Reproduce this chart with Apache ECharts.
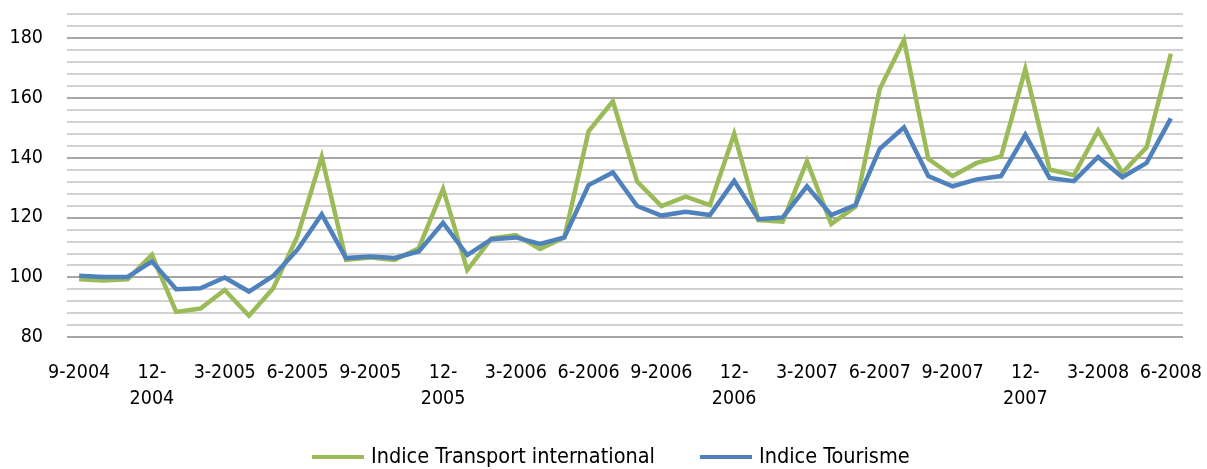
<!DOCTYPE html>
<html>
<head>
<meta charset="utf-8">
<script src="https://cdn.jsdelivr.net/npm/echarts@6/dist/echarts.min.js"></script>
<style>
  html, body { margin: 0; padding: 0; background: #ffffff; }
  #chart { width: 1207px; height: 469px; }
</style>
</head>
<body>
<div id="chart"></div>
<script>
// Monthly periods, September 2004 to June 2008
const months = [
  '9-2004', '10-2004', '11-2004', '12-2004', '1-2005', '2-2005', '3-2005', '4-2005', '5-2005',
  '6-2005', '7-2005', '8-2005', '9-2005', '10-2005', '11-2005', '12-2005', '1-2006', '2-2006',
  '3-2006', '4-2006', '5-2006', '6-2006', '7-2006', '8-2006', '9-2006', '10-2006', '11-2006',
  '12-2006', '1-2007', '2-2007', '3-2007', '4-2007', '5-2007', '6-2007', '7-2007', '8-2007',
  '9-2007', '10-2007', '11-2007', '12-2007', '1-2008', '2-2008', '3-2008', '4-2008', '5-2008',
  '6-2008'
];

const transportIndex = [
  99.3, 98.9, 99.3, 107.5, 88.4, 89.5, 95.7, 87.1, 96.3,
  113.7, 140.2, 105.8, 106.6, 105.8, 109.7, 129.5, 102.4, 113.0,
  114.1, 109.4, 113.3, 148.8, 158.8, 132.0, 123.8, 126.9, 124.1,
  147.9, 119.1, 118.6, 138.8, 117.8, 123.6, 162.9, 179.3, 139.6,
  133.8, 138.2, 140.4, 169.6, 136.0, 134.1, 149.0, 134.9, 143.4,
  174.7
];

const tourismIndex = [
  100.5, 100.1, 100.1, 105.3, 96.0, 96.3, 99.9, 95.2, 100.4,
  109.2, 121.0, 106.4, 106.9, 106.4, 108.6, 118.2, 107.4, 112.7,
  113.3, 111.1, 113.3, 130.8, 135.0, 123.8, 120.6, 121.9, 120.8,
  132.2, 119.4, 120.0, 130.4, 120.8, 124.1, 142.9, 150.1, 133.8,
  130.4, 132.7, 133.8, 147.6, 133.2, 132.1, 140.2, 133.4, 138.2,
  153.1
];

const seriesNames = ['Indice Transport international', 'Indice Tourisme'];
const yLabels = [80, 100, 120, 140, 160, 180];

const FONT = "'DejaVu Sans Condensed', 'DejaVu Sans', sans-serif";
const MAJOR = '#898989';
const MINOR = '#c3c3c3';

const chart = echarts.init(document.getElementById('chart'), null, { renderer: 'canvas' });

chart.setOption({
  animation: false,
  backgroundColor: '#ffffff',
  grid: { left: 67, right: 24, top: 14, bottom: 132, containLabel: false },
  legend: {
    data: seriesNames,
    top: 446,
    left: 312,
    icon: 'rect',
    itemWidth: 52,
    itemHeight: 4,
    itemGap: 45,
    padding: 0,
    textStyle: { fontFamily: FONT, fontSize: 21.5, color: '#000000', padding: [0, 0, 0, 2] }
  },
  xAxis: {
    type: 'category',
    data: months,
    boundaryGap: true,
    axisLine: { show: false },
    axisTick: { show: false },
    splitLine: { show: false },
    axisLabel: {
      interval: 2,
      margin: 23,
      fontFamily: FONT,
      fontSize: 19.5,
      lineHeight: 26,
      color: '#000000',
      formatter: (v) => v.startsWith('12-') ? '12-\n' + v.slice(3) : v
    }
  },
  yAxis: {
    type: 'value',
    min: 80,
    max: 188,
    interval: 4,
    axisLine: { show: false },
    axisTick: { show: false },
    axisLabel: {
      margin: 24,
      fontFamily: FONT,
      fontSize: 19.5,
      color: '#000000',
      showMaxLabel: false,
      formatter: (v) => yLabels.includes(v) ? String(v) : ''
    },
    splitLine: {
      show: true,
      lineStyle: { color: [MAJOR, MINOR, MINOR, MINOR, MINOR], width: 1.5 }
    }
  },
  series: [
    {
      name: seriesNames[0],
      type: 'line',
      data: transportIndex,
      symbol: 'none',
      lineStyle: { color: '#9bbb59', width: 4.5, join: 'miter' },
      itemStyle: { color: '#9bbb59' }
    },
    {
      name: seriesNames[1],
      type: 'line',
      data: tourismIndex,
      symbol: 'none',
      lineStyle: { color: '#4f81bd', width: 4.5, join: 'miter' },
      itemStyle: { color: '#4f81bd' }
    }
  ]
});
</script>
</body>
</html>
